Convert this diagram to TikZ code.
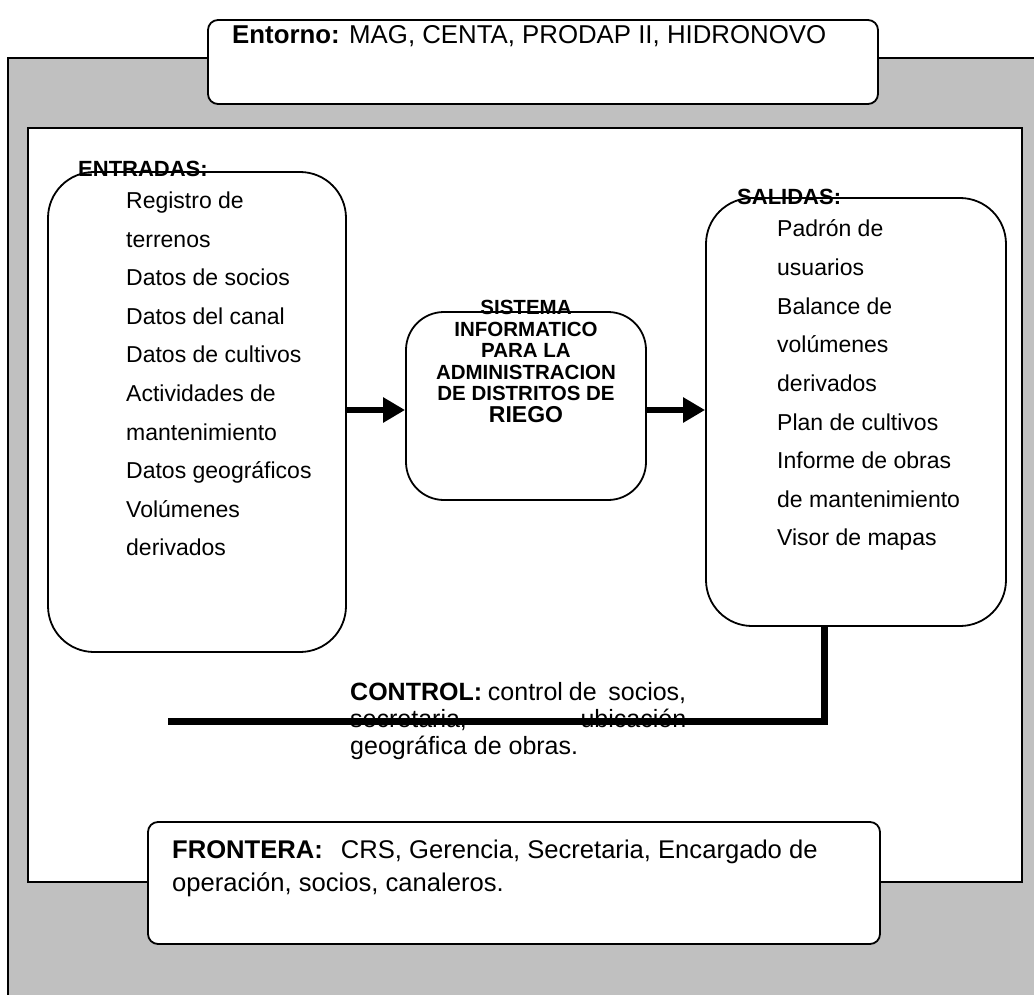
\documentclass[tikz,border=0pt]{standalone}
\usepackage{fontspec}
\setmainfont{Liberation Sans}
\usetikzlibrary{arrows.meta}
\definecolor{panel}{RGB}{192,192,192}
\begin{document}
\begin{tikzpicture}[x=1pt,y=-1pt,
  rbox/.style={draw, line width=1.8pt, fill=white, inner sep=0pt},
  tagbox/.style={rbox, rounded corners=10pt},
  bigbox/.style={rbox, rounded corners=46pt},
  item/.style={anchor=base west, inner sep=0pt, font=\fontsize{23}{28}\selectfont},
  head/.style={anchor=base west, inner sep=0pt, font=\bfseries\fontsize{22}{28}\selectfont},
  flow/.style={line width=6pt, -{Triangle[length=22pt,width=24pt]}},
  ctrlline/.style={line width=7pt},
]
\useasboundingbox (0,0) rectangle (1034,995);

% grey environment panel and white system area
\fill[panel] (8,58) rectangle (1040,1000);
\draw[line width=1.5pt] (8,1000) -- (8,58) -- (1040,58);
\draw[line width=1.5pt, fill=white] (28,128) rectangle (1022,882);

% environment tag
\node[tagbox, minimum width=670pt, minimum height=84pt] (entorno) at (543,62) {};
\node[anchor=base west, inner sep=0pt, font=\fontsize{25.8}{30}\selectfont] (entornotxt) at (232,44)
  {\textbf{Entorno:} MAG, CENTA, PRODAP II, HIDRONOVO};

% inputs
\node[bigbox, minimum width=298pt, minimum height=480pt] (entradas) at (197,412) {};
\node[head] (entradashead) at (78,177) {ENTRADAS:};
\foreach \t [count=\i from 0] in {Registro de, terrenos, Datos de socios, Datos del canal,
    Datos de cultivos, Actividades de, mantenimiento, Datos geográficos, Volúmenes, derivados}
  \node[item] (in\i) at (126,{208.5+38.6*\i}) {\t};

% system
\node[rbox, rounded corners=38pt, minimum width=240pt, minimum height=188pt] (sysbox) at (526,406) {};
\node[anchor=north, inner sep=0pt, align=center, font=\bfseries\fontsize{20.5}{21.5}\selectfont] (sysname) at (526,300)
  {SISTEMA\\INFORMATICO\\PARA LA\\ADMINISTRACION\\DE DISTRITOS DE\\{\fontsize{23}{26}\selectfont RIEGO}};

% outputs
\node[bigbox, minimum width=300pt, minimum height=428pt] (salidas) at (856,412) {};
\node[head] (salidashead) at (737,205) {SALIDAS:};
\foreach \t [count=\i from 0] in {Padrón de, usuarios, Balance de, volúmenes, derivados,
    Plan de cultivos, Informe de obras, de mantenimiento, Visor de mapas}
  \node[item] (out\i) at (777,{237+38.6*\i}) {\t};

% flow arrows
\coordinate (axis) at (0,410);
\draw[flow] (entradas.east |- axis) -- (sysbox.west |- axis);
\draw[flow] (sysbox.east |- axis) -- (salidas.west |- axis);

% control
\node[anchor=north west, inner sep=0pt, text width=336pt, align=justify, font=\fontsize{25}{27}\selectfont] (ctrltxt) at (350,682)
  {\textbf{CONTROL:} control de\ \ socios,\linebreak secretaria, ubicación\linebreak geográfica de obras.};
\coordinate (cturn) at (824,721);
\coordinate (cend) at (168,721);
\draw[ctrlline] (cturn |- salidas.south) -- (cturn) -- (cend);

% boundary tag
\node[tagbox, minimum width=732pt, minimum height=122pt] (frontera) at (514,883) {};
\node[anchor=north west, inner sep=0pt, align=left, font=\fontsize{25.6}{33}\selectfont] (fronttxt) at (172,840)
  {\textbf{FRONTERA:}\hspace{18pt}CRS, Gerencia, Secretaria, Encargado de\\operación, socios, canaleros.};
\end{tikzpicture}
\end{document}
